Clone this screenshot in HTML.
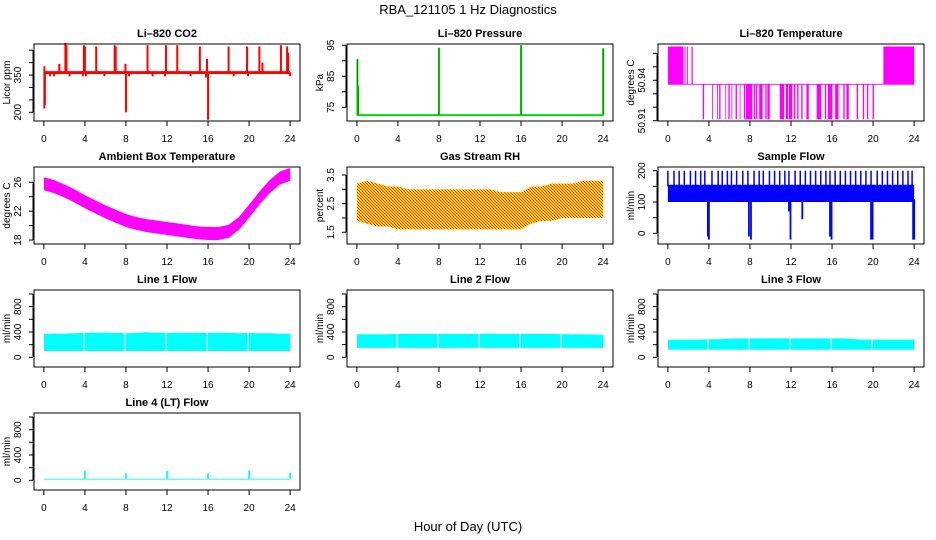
<!DOCTYPE html>
<html><head><meta charset="utf-8"><style>
body{margin:0;background:#fff}
svg{display:block}
text{font-family:"Liberation Sans",Arial,sans-serif;fill:#000}
</style></head><body>
<svg id="c" width="936" height="540" xmlns="http://www.w3.org/2000/svg">
<defs>
<pattern id="rh" width="3" height="3" patternUnits="userSpaceOnUse">
<rect width="3" height="3" fill="#ffdd00"/><rect x="0" y="0" width="1" height="1" fill="#ff2a00"/><rect x="1" y="1" width="1" height="1" fill="#ff2a00"/><rect x="2" y="2" width="1" height="1" fill="#ff2a00"/>
</pattern>
</defs>
<text x="468" y="14" font-size="13" text-anchor="middle">RBA_121105  1 Hz Diagnostics</text>
<text x="468" y="531" font-size="13" text-anchor="middle">Hour of Day (UTC)</text>
</svg>
<script>
// ---- data ----
const xTicks=[0,4,8,12,16,20,24];
const co2Base=[354,366];
const co2SpikeHours=[0.05,1.5,2.1,2.2,3.9,4.0,5.1,6.9,7.0,7.95,8.0,10.1,11.9,13.0,15.2,15.9,16.0,18.0,19.8,21.0,21.3,23.1,23.7,23.8];
const co2SpikeVals=[385,395,480,470,470,465,465,470,465,395,200,470,470,470,465,415,170,465,465,465,400,470,465,440];
const co2DipHours=[0.05,0.1,0.6,1.0,2.5,3.8,4.1,5.9,8.3,10.6,11.8,14.3,15.8,18.5,19.9,24.0];
const co2DipVals=[215,230,345,345,345,345,345,345,345,345,345,345,340,345,345,345];
const presBase=[72.2,72.8];
const presSpikeHours=[0.05,0.12,8.0,16.0,24.0];
const presSpikeVals=[90.5,82,94.2,95,94];
const tempLevels=[50.911,50.937,50.965];
const tempHighBlocks=[[0,1.5],[1.62,1.72],[1.85,1.95],[2.3,2.42],[21,24]];
const tempLowBlocks=[[3.4,3.5],[4.3,4.35],[4.8,4.85],[5.0,5.1],[5.6,5.65],[5.9,6.0],[6.2,6.25],[6.6,6.7],[7.0,7.05],[7.4,7.5],[7.6,8.2],[8.4,8.5],[8.6,8.7],[8.9,9.2],[9.5,9.6],[9.7,9.9],[10.9,11.3],[11.5,11.7],[11.8,12.1],[12.3,12.4],[12.6,12.7],[13.0,13.1],[13.5,13.7],[14.5,14.9],[15.3,15.4],[15.6,16.0],[16.3,16.6],[17.1,17.2],[17.4,17.6],[18.4,18.5],[19.0,19.1],[19.4,19.5],[19.95,20.05]];
const hours=[0,1,2,3,4,5,6,7,8,9,10,11,12,13,14,15,16,17,18,19,20,21,22,23,24];
const ambMid=[25.8,25.4,24.8,24.1,23.3,22.6,21.9,21.3,20.7,20.3,20.0,19.8,19.6,19.4,19.2,19.0,18.9,18.9,19.2,20.3,22.0,23.8,25.4,26.6,27.1];
const rhLow=[1.9,1.8,1.7,1.7,1.6,1.6,1.6,1.6,1.6,1.6,1.6,1.6,1.6,1.6,1.6,1.6,1.6,1.8,1.9,1.9,2.0,2.0,2.0,2.0,2.0];
const rhHigh=[3.2,3.3,3.2,3.1,3.1,3.0,3.0,3.0,3.0,3.0,3.0,3.0,3.0,3.0,2.9,2.9,2.9,3.1,3.1,3.2,3.2,3.2,3.3,3.3,3.3];
const sfBase=[100,155];
const sfSpikeHours=[0,0.6,1.1,1.6,2.2,2.7,3.2,3.6,4.3,4.9,5.3,5.8,6.2,6.7,7.3,7.8,8.4,8.9,9.3,9.9,10.4,10.9,11.4,11.8,12.4,12.9,13.4,13.9,14.4,14.9,15.4,15.8,16.3,16.8,17.3,17.8,18.3,18.8,19.3,19.8,20.4,20.9,21.4,21.9,22.4,22.9,23.4,23.8];
const sfDipHours=[3.9,4.0,7.9,8.1,11.8,11.95,13.1,15.8,15.95,19.8,19.95,23.9,24.0];
const sfDipVals=[-10,-20,-10,-20,70,-20,45,-10,-20,-20,-20,-20,-20];
const l1Low=100, l1High=[370,375,375,380,385,390,390,385,380,385,395,385,385,390,385,385,390,385,385,380,385,380,380,375,370];
const l2Low=150, l2High=[365,365,365,365,370,370,370,370,370,370,370,370,370,375,370,370,370,370,370,370,365,365,365,360,355];
const l3Low=120, l3High=[280,280,280,280,285,285,295,300,300,300,300,300,300,300,300,300,300,300,290,280,280,280,280,280,280];
const lineGaps=[4,8,12,16,20];
const l4Base=[10,25];
const l4SpikeHours=[4,8,12,16,20,24];
const l4SpikeVals=[150,110,150,110,150,120];

// ---- drawing ----
const svg=document.getElementById('c');
const NS='http://www.w3.org/2000/svg';
function mk(tag,attrs,parent){const e=document.createElementNS(NS,tag);for(const k in attrs)e.setAttribute(k,attrs[k]);(parent||svg).appendChild(e);return e;}
function panel(name,title,L,T,yMin,yMax,yTicks,yLabels,yTitle){
  const W=266,H=77;
  const g=mk('g',{});
  
  
  const xs=h=>L+(h+0.96)/25.92*W;
  const ys=v=>T+H-(v-yMin)/(yMax-yMin)*H;
  const t=mk('text',{x:L+W/2,y:T-7,'font-size':11,'font-weight':'bold','text-anchor':'middle'},g);t.textContent=title;
  
  
  const plot=mk('g',{},g);
  
  
  const box=mk('rect',{x:L,y:T,width:W,height:H,fill:'none',stroke:'#000','stroke-width':1},g);
  
  
  const xa=mk('g',{},g);
  
  
  mk('line',{x1:xs(0),x2:xs(24),y1:T+H,y2:T+H,stroke:'#000'},xa);
  xTicks.forEach(h=>{mk('line',{x1:xs(h),x2:xs(h),y1:T+H,y2:T+H+5,stroke:'#000'},xa);
    const tx=mk('text',{x:xs(h),y:T+H+21,'font-size':10,'text-anchor':'middle'},xa);tx.textContent=h;});
  const ya=mk('g',{},g);
  
  
  mk('line',{x1:L-1,x2:L-1,y1:ys(yTicks[0]),y2:ys(yTicks[yTicks.length-1]),stroke:'#000'},ya);
  yTicks.forEach((v,i)=>{const y=ys(v);mk('line',{x1:L-5,x2:L-1,y1:y,y2:y,stroke:'#000'},ya);
    if(yLabels[i]!==''){const tx=mk('text',{x:0,y:0,'font-size':10,'text-anchor':'middle',transform:`translate(${L-13},${y}) rotate(-90)`},ya);tx.textContent=yLabels[i];}});
  const yt=mk('text',{x:0,y:0,'font-size':10,'text-anchor':'middle',transform:`translate(${L-24},${T+H/2}) rotate(-90)`},g);yt.textContent=yTitle;
  
  
  return {xs,ys,plot};
}
function band(p,xsArr,lo,hi,fill){
  let d='M'+xsArr.map((h,i)=>p.xs(h)+','+p.ys(Array.isArray(hi)?hi[i]:hi)).join('L');
  d+='L'+xsArr.slice().reverse().map((h,i)=>{const j=xsArr.length-1-i;return p.xs(h)+','+p.ys(Array.isArray(lo)?lo[j]:lo);}).join('L')+'Z';
  const e=mk('path',{d,fill},p.plot);
  
  
  return e;
}
function vline(p,h,v0,v1,col,w){const e=mk('line',{x1:p.xs(h),x2:p.xs(h),y1:p.ys(v0),y2:p.ys(v1),stroke:col,'stroke-width':w||1.2},p.plot);
  
  }

const C=[34,347,658], R=[44,167,290,413];
// CO2
let p=panel('co2','Li\u2013820 CO2',C[0],R[0],165,475,[200,250,300,350,400,450],['200','','','350','',''],'Licor ppm');
band(p,[0,24],co2Base[0],co2Base[1],'#ff0000');
co2SpikeHours.forEach((h,i)=>vline(p,h,360,co2SpikeVals[i],'#ff0000',2));
co2DipHours.forEach((h,i)=>vline(p,h,360,co2DipVals[i],'#ff0000',2));
// Pressure
p=panel('pressure','Li\u2013820 Pressure',C[1],R[0],70.6,95.4,[75,80,85,90,95],['75','','85','','95'],'kPa');
band(p,[0,24],presBase[0],presBase[1],'#00dd00');
presSpikeHours.forEach((h,i)=>{vline(p,h,72.5,presSpikeVals[i],'#00ee00',2);vline(p,h,72.5,presSpikeVals[i],'#003300',0.6);});
// Li-820 Temperature
p=panel('li820-temp','Li\u2013820 Temperature',C[2],R[0],50.9098,50.9669,[50.91,50.92,50.93,50.94,50.95,50.96],['50.91','','','50.94','',''],'degrees C');
band(p,[0,24],tempLevels[1]-0.0003,tempLevels[1]+0.0003,'#ff00ff');
tempHighBlocks.forEach(b=>band(p,[b[0],b[1]],tempLevels[1],tempLevels[2],'#ff00ff'));
tempLowBlocks.forEach(b=>band(p,[b[0],b[1]+0.03],tempLevels[0],tempLevels[1],'#ff00ff'));
// Ambient
p=panel('ambient-temp','Ambient Box Temperature',C[0],R[1],17.45,28.12,[18,20,22,24,26],['18','','22','','26'],'degrees C');
band(p,hours,ambMid.map(v=>v-0.9),ambMid.map(v=>v+0.9),'#ff00ff');
// RH
p=panel('gas-rh','Gas Stream RH',C[1],R[1],1.09,3.78,[1.5,2,2.5,3,3.5],['1.5','','2.5','','3.5'],'percent');
band(p,hours,rhLow,rhHigh,'url(#rh)');
// Sample flow
p=panel('sample-flow','Sample Flow',C[2],R[1],-34,211.8,[0,50,100,150,200],['0','','100','','200'],'ml/min');
band(p,[0,24],sfBase[0],sfBase[1],'#0000ff');
sfSpikeHours.forEach(h=>vline(p,h,150,200,'#0000ff',1.5));
sfDipHours.forEach((h,i)=>vline(p,h,110,sfDipVals[i],'#0000ff',1.8));
// Line flows
const fT=[0,200,400,600,800,1000], fL=['0','','400','','800',''];
p=panel('line1-flow','Line 1 Flow',C[0],R[2],-153,1063,fT,fL,'ml/min');
band(p,hours,l1Low,l1High,'#00ffff');
lineGaps.forEach(h=>vline(p,h-0.1,l1Low+5,l1High[h]-5,'#ffffff',1.2));
p=panel('line2-flow','Line 2 Flow',C[1],R[2],-153,1063,fT,fL,'ml/min');
band(p,hours,l2Low,l2High,'#00ffff');
lineGaps.forEach(h=>vline(p,h-0.1,l2Low+5,l2High[h]-5,'#ffffff',1.2));
p=panel('line3-flow','Line 3 Flow',C[2],R[2],-153,1063,fT,fL,'ml/min');
band(p,hours,l3Low,l3High,'#00ffff');
lineGaps.forEach(h=>vline(p,h-0.1,l3Low+5,l3High[h]-5,'#ffffff',1.2));
p=panel('line4-flow','Line 4 (LT) Flow',C[0],R[3],-153,1063,fT,fL,'ml/min');
band(p,[0,24],l4Base[0],l4Base[1],'#00ffff');
l4SpikeHours.forEach((h,i)=>vline(p,h,l4Base[1],l4SpikeVals[i],'#00ffff',1.8));
</script>
</body></html>
